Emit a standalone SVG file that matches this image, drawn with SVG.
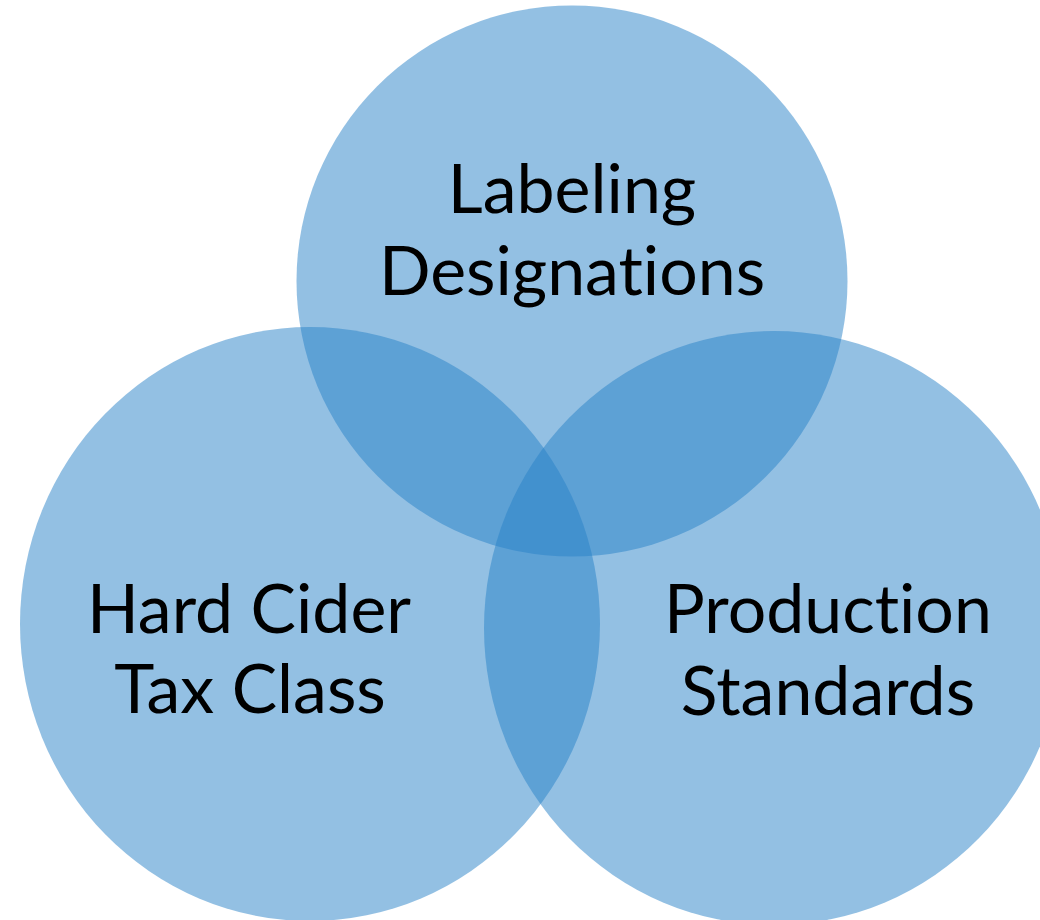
<svg xmlns="http://www.w3.org/2000/svg" width="1040" height="920" viewBox="0 0 1040 920">
<style>
.c{fill:#2882C8;fill-opacity:0.5;stroke:none}
.t{font-family:"Lato","Open Sans","Liberation Sans",sans-serif;font-size:68px;fill:#000;text-anchor:middle;font-variant-ligatures:none;font-feature-settings:"liga" 0}
</style>
<rect width="1040" height="920" fill="#fff"/>
<g id="labeling">
<ellipse class="c" cx="572" cy="281" rx="275.5" ry="275.5"/>
</g>
<g id="hard-cider">
<ellipse class="c" cx="310" cy="624" rx="290" ry="297"/>
</g>
<g id="production">
<ellipse class="c" cx="774" cy="628" rx="290" ry="297"/>
</g>
<g id="labels">
<text class="t" x="572" y="213">Labeling</text>
<text class="t" x="572" y="295">Designations</text>
<text class="t" x="249" y="633">Hard Cider</text>
<text class="t" x="250" y="713">Tax Class</text>
<text class="t" x="828" y="633">Production</text>
<text class="t" x="828" y="715">Standards</text>
</g>
</svg>
